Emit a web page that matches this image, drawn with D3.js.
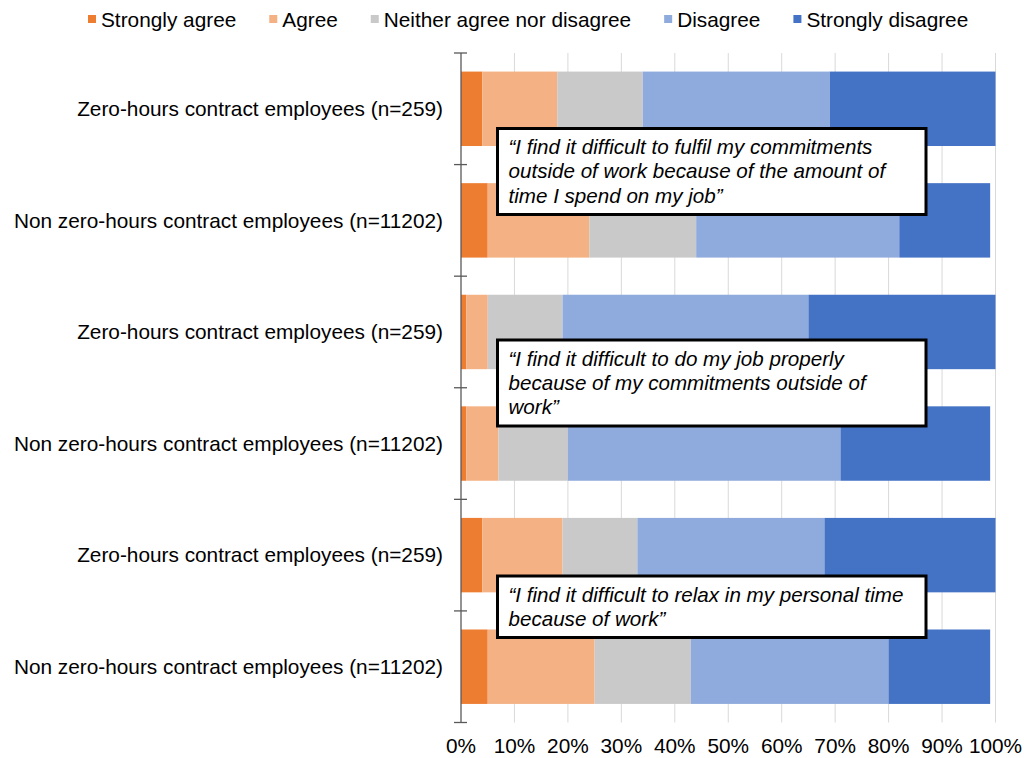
<!DOCTYPE html>
<html>
<head>
<meta charset="utf-8">
<script src="https://cdn.jsdelivr.net/npm/d3@7"></script>
<style>
  html, body { margin: 0; padding: 0; background: #fff; }
  svg { display: block; font-family: "Liberation Sans", Arial, sans-serif; }
</style>
</head>
<body>
<svg id="chart" width="1024" height="758"></svg>
<script>
// Survey groups, one bar each (top to bottom)
const groups = [
  "Zero-hours contract employees (n=259)",
  "Non zero-hours contract employees (n=11202)",
  "Zero-hours contract employees (n=259)",
  "Non zero-hours contract employees (n=11202)",
  "Zero-hours contract employees (n=259)",
  "Non zero-hours contract employees (n=11202)"
];

// Response categories (stack order, left to right)
const responses = ["Strongly agree", "Agree", "Neither agree nor disagree", "Disagree", "Strongly disagree"];
const responseColors = ["#ED7D31", "#F4B183", "#C9C9C9", "#8FAADC", "#4472C4"];

// Percentage of respondents per response, one value per group
const stronglyAgree    = [4, 5, 1, 1, 4, 5];
const agree            = [14, 19, 4, 6, 15, 20];
const neither          = [16, 20, 14, 13, 14, 18];
const disagree         = [35, 38, 46, 51, 35, 37];
const stronglyDisagree = [31, 17, 35, 28, 32, 19];

// Percentage axis ticks
const xTicks = [0, 10, 20, 30, 40, 50, 60, 70, 80, 90, 100];

// Statements shown for each pair of bars
const statements = [
  ["\u201CI find it difficult to fulfil my commitments", "outside of work because of the amount of", "time I spend on my job\u201D"],
  ["\u201CI find it difficult to do my job properly", "because of my commitments outside of", "work\u201D"],
  ["\u201CI find it difficult to relax in my personal time", "because of work\u201D"]
];

const svg = d3.select("#chart");
const FONT = 20.8;
const plot = { left: 461, right: 995.5, top: 53, bottom: 722.5 };

const x = d3.scaleLinear().domain([0, 100]).range([plot.left, plot.right]);
const y = d3.scaleBand().domain(d3.range(groups.length))
  .range([plot.top, plot.bottom]).paddingInner(0.333).paddingOuter(0.1665);

// Gridlines
svg.append("g").selectAll("line").data(xTicks.filter(d => d > 0)).join("line")
  .attr("x1", d => x(d)).attr("x2", d => x(d))
  .attr("y1", plot.top).attr("y2", plot.bottom)
  .attr("stroke", "#d9d9d9").attr("stroke-width", 1);

// Stacked bars
const rows = groups.map((g, i) => ({
  "Strongly agree": stronglyAgree[i],
  "Agree": agree[i],
  "Neither agree nor disagree": neither[i],
  "Disagree": disagree[i],
  "Strongly disagree": stronglyDisagree[i],
  idx: i
}));
const stacked = d3.stack().keys(responses)(rows);
const color = d3.scaleOrdinal().domain(responses).range(responseColors);

svg.append("g").selectAll("g").data(stacked).join("g")
  .attr("fill", d => color(d.key))
  .selectAll("rect").data(d => d).join("rect")
  .attr("x", d => x(d[0]))
  .attr("width", d => x(d[1]) - x(d[0]))
  .attr("y", d => y(d.data.idx))
  .attr("height", y.bandwidth());

// Category axis with ticks crossing the line
const yAxisG = svg.append("g");
yAxisG.append("line")
  .attr("x1", plot.left).attr("x2", plot.left)
  .attr("y1", plot.top).attr("y2", plot.bottom)
  .attr("stroke", "#595959").attr("stroke-width", 1.3);
const bounds = d3.range(groups.length + 1).map(i => plot.top + i * y.step());
yAxisG.selectAll("line.tick").data(bounds).join("line").attr("class", "tick")
  .attr("x1", plot.left - 7).attr("x2", plot.left + 6)
  .attr("y1", d => d).attr("y2", d => d)
  .attr("stroke", "#595959").attr("stroke-width", 1.3);
yAxisG.selectAll("text").data(groups).join("text")
  .attr("x", 443)
  .attr("y", (d, i) => y(i) + y.bandwidth() / 2)
  .attr("dy", "0.35em")
  .attr("text-anchor", "end")
  .attr("font-size", FONT)
  .attr("fill", "#000")
  .text(d => d);

// Percentage axis labels
svg.append("g").selectAll("text").data(xTicks).join("text")
  .attr("x", d => x(d))
  .attr("y", 753)
  .attr("text-anchor", "middle")
  .attr("font-size", FONT)
  .attr("fill", "#000")
  .text(d => d + "%");

// Legend
const legend = svg.append("g");
let lx = 88;
responses.forEach((r, i) => {
  legend.append("rect")
    .attr("x", lx).attr("y", 15).attr("width", 8).attr("height", 8)
    .attr("fill", responseColors[i]);
  const t = legend.append("text")
    .attr("x", lx + 13).attr("y", 26.5)
    .attr("font-size", FONT).attr("fill", "#000")
    .text(r);
  lx += 13 + t.node().getComputedTextLength() + 33;
});

// Statement boxes, one per pair of bars
const boxLayout = [
  { top: 128.5, bottom: 214.5 },
  { top: 340, bottom: 426 },
  { top: 576, bottom: 637.5 }
];
const boxLeft = 497.5, boxRight = 926;
statements.forEach((lines, i) => {
  const b = boxLayout[i];
  const g = svg.append("g");
  g.append("rect")
    .attr("x", boxLeft).attr("y", b.top)
    .attr("width", boxRight - boxLeft).attr("height", b.bottom - b.top)
    .attr("fill", "#fff").attr("stroke", "#000").attr("stroke-width", 3);
  g.selectAll("text").data(lines).join("text")
    .attr("x", boxLeft + 11)
    .attr("y", (d, j) => b.top + 25.5 + j * 24.4)
    .attr("font-size", 20.6)
    .attr("font-style", "italic")
    .attr("fill", "#000")
    .text(d => d);
});
</script>
</body>
</html>
